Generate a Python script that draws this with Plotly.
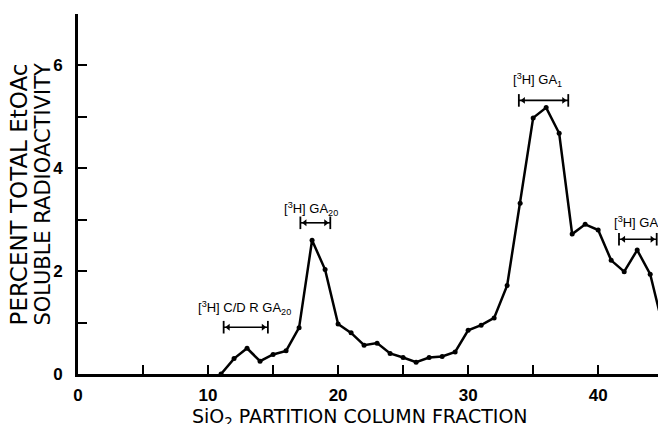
import plotly.graph_objects as go

# Data
fractions = list(range(11, 46))
radioactivity = [0.0, 0.30, 0.50, 0.25, 0.38, 0.45, 0.90, 2.60, 2.03, 0.97,
                 0.80, 0.56, 0.60, 0.40, 0.32, 0.23, 0.32, 0.34, 0.43, 0.85,
                 0.95, 1.09, 1.72, 3.32, 4.98, 5.18, 4.68, 2.72, 2.91, 2.80,
                 2.21, 1.99, 2.41, 1.94, 0.90]

# Elution ranges of standards (fraction start, end, level) and labels
range_labels = ["[<sup>3</sup>H] C/D R GA<sub>20</sub>", "[<sup>3</sup>H] GA<sub>20</sub>",
                "[<sup>3</sup>H] GA<sub>1</sub>", "[<sup>3</sup>H] GA<sub>8</sub>"]
range_start = [11.2, 17.1, 33.9, 41.6]
range_end = [14.6, 19.4, 37.7, 44.5]
range_level = [0.91, 2.94, 5.32, 2.62]
label_x = [12.8, 17.9, 35.3, 41.1]
label_y = [1.29, 3.2, 5.71, 2.93]
label_anchor = ["center", "center", "center", "left"]

x_ticks = [0, 5, 10, 15, 20, 25, 30, 35, 40]
x_ticktext = ["0", "", "10", "", "20", "", "30", "", "40"]
y_ticks = [0, 1, 2, 3, 4, 5, 6, 7]
y_ticktext = ["0", "", "2", "", "4", "", "6", ""]

x_title = "SiO<sub>2</sub> PARTITION COLUMN FRACTION"
y_title_lines = ["PERCENT TOTAL EtOAc", "SOLUBLE RADIOACTIVITY"]

FONT = "Liberation Sans"
TFONT = "DejaVu Sans"

fig = go.Figure()

fig.add_trace(go.Scatter(
    x=fractions, y=radioactivity, mode="lines+markers",
    line=dict(color="black", width=2.5),
    marker=dict(color="black", size=5),
    showlegend=False, hoverinfo="skip"))

for xs, xe, yl in zip(range_start, range_end, range_level):
    fig.add_trace(go.Scatter(
        x=[xs, xe], y=[yl, yl], mode="lines+markers",
        line=dict(color="black", width=1.6),
        marker=dict(symbol="line-ns-open", size=9, color="black",
                    line=dict(width=1.8, color="black")),
        showlegend=False, hoverinfo="skip", cliponaxis=False))
    fig.add_trace(go.Scatter(
        x=[xs + 0.35, xe - 0.35], y=[yl, yl], mode="markers",
        marker=dict(symbol=["triangle-left", "triangle-right"], size=6, color="black"),
        showlegend=False, hoverinfo="skip", cliponaxis=False))

for txt, lx, ly, anc in zip(range_labels, label_x, label_y, label_anchor):
    fig.add_annotation(x=lx, y=ly, text=txt, showarrow=False,
                       font=dict(family=FONT, size=13, color="black"),
                       xanchor=anc, yanchor="middle")

fig.add_annotation(xref="paper", yref="paper", x=0.486, y=-0.122,
                   text=x_title,
                   showarrow=False, xanchor="center", yanchor="middle",
                   font=dict(family=TFONT, size=19, color="black"))
for txt, px, fs in zip(y_title_lines, [-0.101, -0.061], [23, 21]):
    fig.add_annotation(xref="paper", yref="paper", x=px, y=0.5,
                       text=txt, showarrow=False,
                       xanchor="center", yanchor="middle", textangle=-90,
                       font=dict(family=TFONT, size=fs, color="black"))

fig.update_layout(
    width=658, height=424,
    margin=dict(l=78, r=0, t=14, b=50, autoexpand=False),
    paper_bgcolor="white", plot_bgcolor="white",
    font=dict(family=FONT, color="black"),
    xaxis=dict(range=[0, 44.6], tickvals=x_ticks, ticktext=x_ticktext,
               ticks="inside", ticklen=9, tickwidth=2, tickcolor="black",
               showline=True, linecolor="black", linewidth=3,
               showgrid=False, zeroline=False, automargin=False,
               ticklabelstandoff=4,
               tickfont=dict(family=FONT, size=17, color="black", weight="bold")),
    yaxis=dict(range=[0, 7], tickvals=y_ticks, ticktext=y_ticktext,
               ticks="inside", ticklen=9, tickwidth=2, tickcolor="black",
               showline=True, linecolor="black", linewidth=3,
               showgrid=False, zeroline=False, automargin=False,
               ticklabelstandoff=9,
               tickfont=dict(family=FONT, size=17, color="black", weight="bold")),
)

fig.write_html("out.html", config={"displayModeBar": False},
               post_script="document.body.style.margin='0';document.body.style.overflow='hidden';")
